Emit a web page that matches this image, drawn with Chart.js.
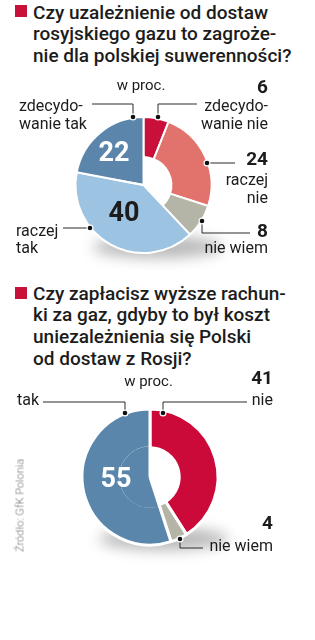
<!DOCTYPE html>
<html>
<head>
<meta charset="utf-8">
<script src="https://cdn.jsdelivr.net/npm/chart.js@4"></script>
<style>
  html, body { margin: 0; padding: 0; background: #fff; }
  #page { position: relative; width: 315px; height: 640px; overflow: hidden; font-family: Roboto, 'Noto Sans', sans-serif; color: #1c1c1c; }
  canvas { position: absolute; left: 0; }
  .t { position: absolute; white-space: pre; line-height: 1; }
  .title { font-size: 19px; font-weight: 500; }
  .sq { position: absolute; width: 12px; height: 12px; background: #c8103a; }
  .lab { font-size: 16px; }
  .num { font-size: 19px; font-weight: 700; }
  .big { font-size: 27px; font-weight: 700; }
  .src { position: absolute; font-size: 11px; font-weight: 300; color: #777; transform: rotate(-90deg); transform-origin: center; white-space: nowrap; }
</style>
</head>
<body>
<div id="page">
  <div class="sq" style="left:15px;top:5px"></div>
  <div class="sq" style="left:15px;top:287px"></div>
  <canvas id="chart1" width="315" height="180" style="top:90px;width:315px;height:180px"></canvas>
  <canvas id="chart2" width="315" height="190" style="top:380px;width:315px;height:190px"></canvas>
  <div class="src" style="left:-36px;top:499px;width:112px;text-align:center">Źródło: GfK Polonia</div>
</div>
<script>
// ── Data ───────────────────────────────────────────────────────────────────────
const q1Title = ['Czy uzależnienie od dostaw', 'rosyjskiego gazu to zagroże-', 'nie dla polskiej suwerenności?'];
const q1Labels = ['zdecydo-\nwanie nie', 'raczej\nnie', 'nie wiem', 'raczej\ntak', 'zdecydo-\nwanie tak'];
const q1Values = [6, 24, 8, 40, 22];

const q2Title = ['Czy zapłacisz wyższe rachun-', 'ki za gaz, gdyby to był koszt', 'uniezależnienia się Polski', 'od dostaw z Rosji?'];
const q2Labels = ['nie', 'nie wiem', 'tak'];
const q2Values = [41, 4, 55];

const unitLabel = 'w proc.';

// ── Styles ─────────────────────────────────────────────────────────────────────
const q1Colors = ['#c8103a', '#e2726c', '#b4b5a6', '#9dc3e2', '#5b85aa'];
const q2Colors = ['#cc0a3a', '#b4b5a6', '#5b86ab'];
const q1Solid = [false, false, false, true, true];
const q2Solid = [false, false, true];

const page = document.getElementById('page');

// place text by its baseline (Roboto ascent ~0.84 em inside a line-height:1 box)
function addText(txt, cls, size, x, baseline, align, extra) {
  const d = document.createElement('div');
  d.className = 't ' + cls;
  d.textContent = txt;
  d.style.top = (baseline - 0.84 * size) + 'px';
  if (align === 'right') d.style.right = (315 - x) + 'px', d.style.textAlign = 'right';
  else if (align === 'center') d.style.left = (x - 60) + 'px', d.style.width = '120px', d.style.textAlign = 'center';
  else d.style.left = x + 'px';
  if (extra) Object.assign(d.style, extra);
  page.appendChild(d);
}

// titles
q1Title.forEach((l, i) => addText(l, 'title', 19, 33, 18.5 + i * 21.6));
q2Title.forEach((l, i) => addText(l, 'title', 19, 33, 299.5 + i * 21.8));
addText(unitLabel, 'lab', 15, 141, 91, 'center', { fontSize: '15px' });
addText(unitLabel, 'lab', 15, 148.5, 387, 'center', { fontSize: '15px' });

// ── Chart 1 labels ─────────────────────────────────────────────────────────────
const lh = { lineHeight: '18px' };
addText(String(q1Values[0]), 'num', 19, 268, 93, 'right');
addText(q1Labels[0], 'lab', 16, 268, 110, 'right', lh);
addText(String(q1Values[1]), 'num', 19, 268, 165, 'right');
addText(q1Labels[1], 'lab', 16, 268, 184, 'right', lh);
addText(String(q1Values[2]), 'num', 19, 268, 237, 'right');
addText(q1Labels[2], 'lab', 16, 268, 253, 'right');
addText(q1Labels[3], 'lab', 16, 16, 235, 'left', { lineHeight: '17px' });
addText(q1Labels[4], 'lab', 16, 19, 110, 'left', lh);
addText(String(q1Values[4]), 'big', 27, 114, 162, 'center', { color: '#fff' });
addText(String(q1Values[3]), 'big', 27, 124, 222, 'center', { color: '#1c1c1c' });

// ── Chart 2 labels ─────────────────────────────────────────────────────────────
addText(String(q2Values[0]), 'num', 19, 273, 384, 'right');
addText(q2Labels[0], 'lab', 16, 273, 405, 'right');
addText(String(q2Values[1]), 'num', 19, 273, 529, 'right');
addText(q2Labels[1], 'lab', 16, 273, 551.5, 'right');
addText(q2Labels[2], 'lab', 16, 17, 405, 'left');
addText(String(q2Values[2]), 'big', 27, 116, 488, 'center', { color: '#fff' });

// ── Plugins ────────────────────────────────────────────────────────────────────
// soft drop shadow under the ring
const shadowPlugin = {
  id: 'shadow',
  beforeDatasetsDraw(chart) {
    const a = chart.getDatasetMeta(0).data[0];
    const ctx = chart.ctx;
    ctx.save();
    ctx.filter = 'blur(7px)';
    ctx.fillStyle = 'rgba(0,0,0,0.28)';
    ctx.beginPath();
    ctx.ellipse(a.x + 14, a.y + a.outerRadius - 6, a.outerRadius * 0.95, 11, 0, 0, Math.PI * 2);
    ctx.fill();
    ctx.restore();
  }
};

// the "tak" slices run all the way to the centre, the rest leave a hole
const centreFill = {
  id: 'centreFill',
  afterDatasetsDraw(chart, args, opts) {
    const meta = chart.getDatasetMeta(0);
    const colors = chart.data.datasets[0].backgroundColor;
    const ctx = chart.ctx;
    ctx.save();
    meta.data.forEach((arc, i) => {
      if (!opts.solid[i]) return;
      ctx.beginPath();
      ctx.moveTo(arc.x, arc.y);
      ctx.arc(arc.x, arc.y, arc.innerRadius + 1.5, arc.startAngle, arc.endAngle);
      ctx.closePath();
      ctx.fillStyle = colors[i];
      ctx.fill();
    });
    ctx.strokeStyle = '#fff';
    ctx.lineWidth = opts.gap;
    meta.data.forEach((arc, i) => {
      if (!opts.solid[i]) return;
      [arc.startAngle, arc.endAngle].forEach(ang => {
        ctx.beginPath();
        ctx.moveTo(arc.x, arc.y);
        ctx.lineTo(arc.x + Math.cos(ang) * (arc.innerRadius + 2), arc.y + Math.sin(ang) * (arc.innerRadius + 2));
        ctx.stroke();
      });
    });
    ctx.restore();
  }
};

// leader lines with dots, given in page coordinates
const leaders = {
  id: 'leaders',
  afterDraw(chart, args, opts) {
    const ctx = chart.ctx;
    ctx.save();
    ctx.translate(0, -opts.top);
    opts.lines.forEach(pts => {
      ctx.beginPath();
      ctx.moveTo(pts[0][0], pts[0][1]);
      pts.slice(1).forEach(p => ctx.lineTo(p[0], p[1]));
      ctx.strokeStyle = '#2a2a2a';
      ctx.lineWidth = 1;
      ctx.stroke();
    });
    opts.dots.forEach(d => {
      ctx.beginPath();
      ctx.arc(d[0], d[1], 3.5, 0, Math.PI * 2);
      ctx.fillStyle = '#fff';
      ctx.fill();
      ctx.beginPath();
      ctx.arc(d[0], d[1], 2.3, 0, Math.PI * 2);
      ctx.fillStyle = '#111';
      ctx.fill();
    });
    ctx.restore();
  }
};

function makeDonut(id, labels, values, colors, border, cutout, padding, solid, lead) {
  return new Chart(document.getElementById(id), {
    type: 'doughnut',
    data: {
      labels,
      datasets: [{
        data: values,
        backgroundColor: colors,
        borderColor: '#fff',
        borderWidth: border,
        hoverBorderWidth: border,
        offset: 0,
        hoverOffset: 0
      }]
    },
    options: {
      responsive: false,
      animation: false,
      events: [],
      cutout,
      layout: { padding },
      plugins: {
        legend: { display: false },
        tooltip: { enabled: false },
        centreFill: { solid, gap: border },
        leaders: lead
      }
    },
    plugins: [shadowPlugin, centreFill, leaders]
  });
}

// ── Chart 1 ────────────────────────────────────────────────────────────────────
makeDonut('chart1', q1Labels, q1Values, q1Colors, 2, '41%',
  { left: 74.5, right: 102.5, top: 26, bottom: 16 }, q1Solid, {
    top: 90,
    lines: [
      [[158, 117], [158, 104], [197, 104]],
      [[92, 104], [133, 104], [133, 117]],
      [[207, 163], [235, 163]],
      [[90, 228], [63, 228]],
      [[202, 221], [202, 233], [250, 233]]
    ],
    dots: [[158, 117], [133, 117], [207, 163], [90, 228], [202, 221]]
  });

// ── Chart 2 ────────────────────────────────────────────────────────────────────
makeDonut('chart2', q2Labels, q2Values, q2Colors, 3, '43%',
  { left: 80.5, right: 95.5, top: 27.5, bottom: 23.5 }, q2Solid, {
    top: 380,
    lines: [
      [[43, 402], [125, 402], [125, 413]],
      [[163, 413], [163, 402], [247, 402]],
      [[180, 539], [180, 548], [203, 548]]
    ],
    dots: [[125, 413], [163, 413], [180, 539]]
  });
</script>
</body>
</html>
